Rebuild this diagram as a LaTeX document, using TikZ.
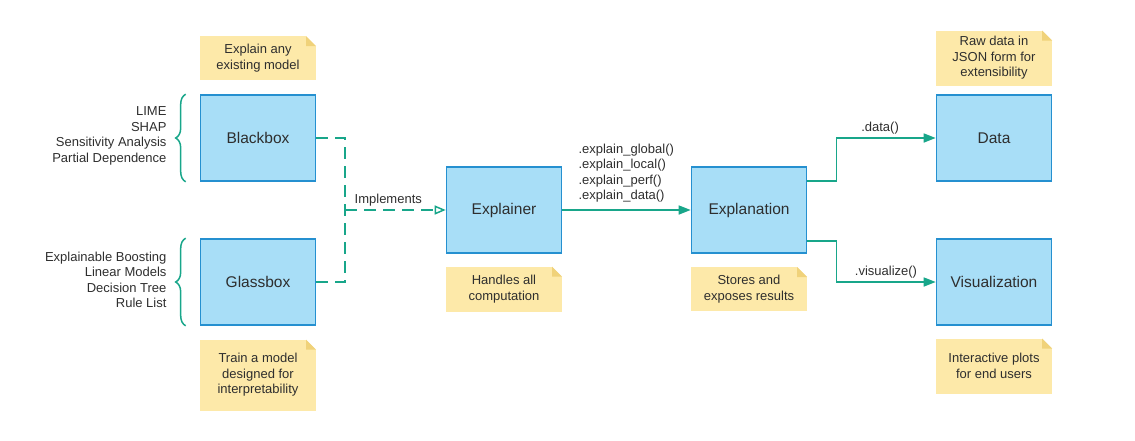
\documentclass[tikz,border=0pt]{standalone}
\usepackage{fontspec}
\setmainfont{Liberation Sans}
\usetikzlibrary{arrows.meta,decorations.pathreplacing}

\definecolor{boxfill}{HTML}{A8DEF7}
\definecolor{boxline}{HTML}{2590D0}
\definecolor{notefill}{HTML}{FDE9A9}
\definecolor{notefold}{HTML}{F0D27A}
\definecolor{flowcol}{HTML}{18A68A}
\definecolor{txt}{HTML}{2E2E2E}

\tikzset{
	comp/.style={draw=boxline, fill=boxfill, line width=1.6pt, minimum width=115pt, minimum height=86pt,
		font=\fontsize{15.5}{18}\selectfont, text=txt},
	note/.style={fill=notefill, minimum width=116pt, align=center, text=txt,
		font=\fontsize{13}{15.5}\selectfont,
		path picture={
			\fill[white] ([xshift=-10pt]path picture bounding box.north east) -- (path picture bounding box.north east) -- ([yshift=-10pt]path picture bounding box.north east) -- cycle;
			\fill[notefold] ([xshift=-10pt]path picture bounding box.north east) -- ([yshift=-10pt]path picture bounding box.north east) -- ([xshift=-10pt,yshift=-10pt]path picture bounding box.north east) -- cycle;}},
	lbl/.style={text=txt, font=\fontsize{13}{15.5}\selectfont},
	impl/.style={draw=flowcol, line width=1.5pt, dash pattern=on 12pt off 7pt},
	flow/.style={draw=flowcol, line width=1.5pt, -{Triangle[length=12pt,width=9pt]}},
	grp/.style={draw=flowcol, line width=1.5pt, decorate, decoration={brace, amplitude=10pt}}
}

\begin{document}
\begin{tikzpicture}[x=1pt,y=-1pt]
		\useasboundingbox (0,0) rectangle (1135,440);
		
		% components
		\node[comp] (bb) at (258,138) {Blackbox};
		\node[comp] (gb) at (258,282) {Glassbox};
		\node[comp] (ex) at (504,210) {Explainer};
		\node[comp] (en) at (749,210) {Explanation};
		\node[comp] (da) at (994,138) {Data};
		\node[comp] (vi) at (994,282) {Visualization};
		
		% notes
		\node[note, minimum height=44pt] (n-bb) at (258,58) {Explain any\\existing model};
		\node[note, minimum height=71pt] (n-gb) at (258,375) {Train a model\\designed for\\interpretability};
		\node[note, minimum height=45pt] (n-ex) at (504,289) {Handles all\\computation};
		\node[note, minimum height=44pt] (n-en) at (749,289) {Stores and\\exposes results};
		\node[note, minimum height=55pt] (n-da) at (994,58) {Raw data in\\JSON form for\\extensibility};
		\node[note, minimum height=55pt] (n-vi) at (994,366) {Interactive plots\\for end users};
		
		% methods grouped by braces
		\node[lbl, align=right, anchor=east] (m-bb) at (170,136) {LIME\\SHAP\\Sensitivity Analysis\\Partial Dependence};
		\node[lbl, align=right, anchor=east] (m-gb) at (170,280) {Explainable Boosting\\Linear Models\\Decision Tree\\Rule List};
		\draw[grp] (bb.south west)++(-14pt,0) coordinate(b1) -- (b1|-bb.north);
		\draw[grp] (gb.south west)++(-14pt,0) coordinate(b2) -- (b2|-gb.north);
		
		% implements
		\coordinate (jn) at (345,210);
		\draw[impl] (bb.east) -| (jn);
		\draw[impl] (gb.east) -| (jn);
		\draw[impl, -{Triangle[open,length=11pt,width=9pt]}] (jn) -- node[lbl, above, pos=0.43]{Implements} (ex.west);
		
		% calls
		\draw[flow] (ex.east) -- (en.west);
		\node[lbl, align=left, anchor=south west] (calls) at (575,206) {.explain\_global()\\.explain\_local()\\.explain\_perf()\\.explain\_data()};
		\draw[flow] ([yshift=29pt]en.east) --++(29,0) |- node[lbl, above, pos=0.72]{.data()} (da.west);
		\draw[flow] ([yshift=-31pt]en.east) --++(29,0) |- node[lbl, above, pos=0.75]{.visualize()} (vi.west);
		
\end{tikzpicture}
\end{document}
